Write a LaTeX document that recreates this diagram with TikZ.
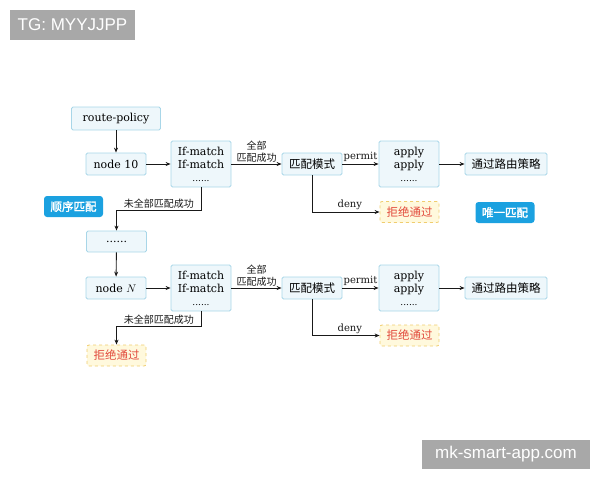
\documentclass[tikz,border=0pt]{standalone}
\usepackage{fontspec}
\setmainfont{DejaVu Serif}
\newfontfamily\cjk[AutoFakeBold=2]{Noto Sans CJK SC}
\newfontfamily\wmfont{Liberation Sans}
\usetikzlibrary{arrows.meta}
\definecolor{boxfill}{RGB}{238,247,251}
\definecolor{boxline}{RGB}{168,214,232}
\definecolor{tagblue}{RGB}{27,161,224}
\definecolor{rejfill}{RGB}{255,249,221}
\definecolor{rejline}{RGB}{240,205,110}
\definecolor{rejtext}{RGB}{226,74,60}
\definecolor{wmgray}{RGB}{168,168,168}

\tikzset{
  box/.style={draw=boxline, fill=boxfill, line width=0.8pt, rounded corners=1.5pt,
    minimum width=60pt, minimum height=22pt, inner sep=1pt, align=center,
    font=\fontsize{11}{13.5}\selectfont},
  cnbox/.style={box, font=\cjk\fontsize{11.5}{13}\selectfont},
  tallbox/.style={box, minimum height=46pt},
  rejbox/.style={draw=rejline, fill=rejfill, dashed, line width=0.8pt, rounded corners=2pt,
    minimum width=59pt, minimum height=21pt, inner sep=1pt, text=rejtext,
    font=\cjk\fontsize{11.5}{13}\selectfont},
  tagbox/.style={fill=tagblue, rounded corners=3pt, minimum width=59pt, minimum height=21pt,
    inner sep=1pt, text=white, font=\cjk\bfseries\fontsize{11.5}{13}\selectfont},
  wmbox/.style={fill=wmgray, inner sep=0pt, text=white, font=\wmfont\fontsize{17}{19}\selectfont},
  arr/.style={-{Stealth[length=5pt,width=4pt]}, line width=0.9pt, black!90},
  lbl/.style={font=\fontsize{10}{12}\selectfont, inner sep=1.5pt},
  cnlbl/.style={font=\cjk\fontsize{10}{12}\selectfont, inner sep=1.5pt, align=center},
}

\begin{document}
\begin{tikzpicture}[x=1pt, y=-1pt]
  \useasboundingbox (0,0) rectangle (600,480);

  % --- watermarks ---
  \node[wmbox, minimum width=125pt, minimum height=30pt] (tg) at (72.5,25) {TG: MYYJJPP};
  \node[wmbox, minimum width=168pt, minimum height=29pt] (site) at (506,454.5) {mk-smart-app.com};

  % --- left column ---
  \node[box, minimum width=89pt, minimum height=23pt] (policy) at (116,118.5) {route-policy};
  \node[box] (node10) at (116,164) {node 10};
  \node[tagbox] (seq) at (73.5,206.5) {顺序匹配};
  \node[box, minimum height=21pt] (more) at (116.5,241.5) {......};
  \node[box] (nodeN) at (116,288) {node $N$};
  \node[rejbox] (rejN) at (116.5,355.5) {拒绝通过};

  % --- first row ---
  \node[tallbox] (if1) at (201,164) {If-match\\If-match\\[-1pt]{\small ......}};
  \node[cnbox] (mode1) at (312,164) {匹配模式};
  \node[tallbox] (apply1) at (409,164) {apply\\apply\\[-1pt]{\small ......}};
  \node[cnbox, minimum width=82pt] (pass1) at (506,164) {通过路由策略};
  \node[rejbox] (rej1) at (409.5,212) {拒绝通过};
  \node[tagbox] (only) at (505,212.5) {唯一匹配};

  % --- second row ---
  \node[tallbox] (if2) at (201,288) {If-match\\If-match\\[-1pt]{\small ......}};
  \node[cnbox] (mode2) at (312,288) {匹配模式};
  \node[tallbox] (apply2) at (409,288) {apply\\apply\\[-1pt]{\small ......}};
  \node[cnbox, minimum width=82pt] (pass2) at (506,288) {通过路由策略};
  \node[rejbox] (rej2) at (409.5,335.5) {拒绝通过};

  % --- connectors ---
  \draw[arr] (policy) -- (node10);
  \draw[arr] (node10) -- (if1);
  \draw[arr] (if1) -- node[cnlbl, above] {全部\\匹配成功} (mode1);
  \draw[arr] (mode1) -- node[lbl, above] {permit} (apply1);
  \draw[arr] (apply1) -- (pass1);
  \draw[arr] (mode1.south) |- node[lbl, above, pos=0.78] {deny} (rej1.west);
  \draw[arr] (if1.south) -- ++(0,23) -| node[cnlbl, above, pos=0.25] {未全部匹配成功} (more.north);
  \draw[arr] (more) -- (nodeN);

  \draw[arr] (nodeN) -- (if2);
  \draw[arr] (if2) -- node[cnlbl, above] {全部\\匹配成功} (mode2);
  \draw[arr] (mode2) -- node[lbl, above] {permit} (apply2);
  \draw[arr] (apply2) -- (pass2);
  \draw[arr] (mode2.south) |- node[lbl, above, pos=0.78] {deny} (rej2.west);
  \draw[arr] (if2.south) -- ++(0,15) -| node[cnlbl, above, pos=0.25] {未全部匹配成功} (rejN.north);
\end{tikzpicture}
\end{document}
